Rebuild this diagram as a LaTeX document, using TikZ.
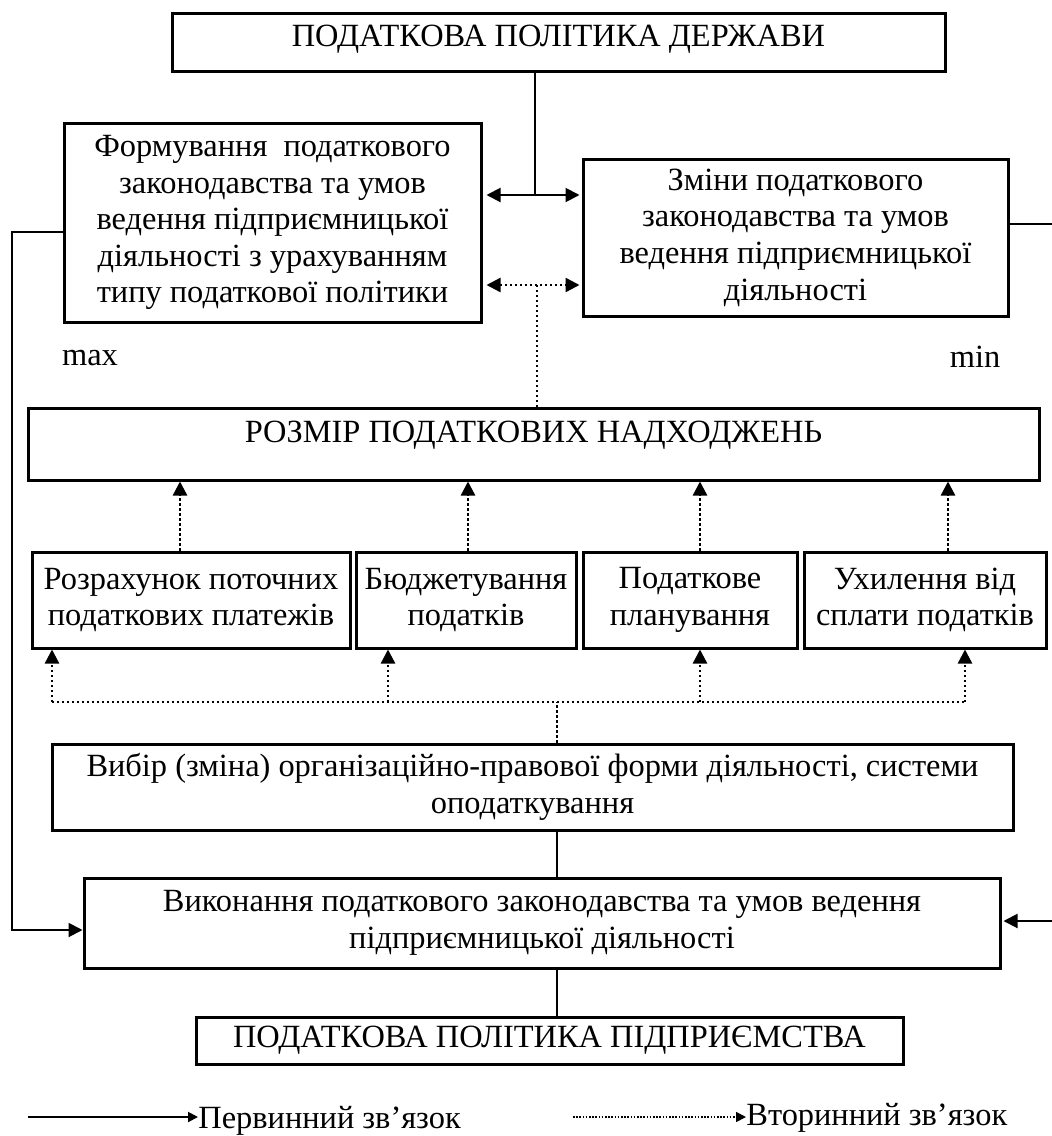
\documentclass[tikz,border=0pt]{standalone}
\usepackage{fontspec}
\setmainfont{Liberation Serif}
\usetikzlibrary{arrows.meta}
\tikzset{
  bx/.style 2 args={draw, line width=1.5pt, inner sep=0pt, align=center,
    minimum width=#1*0.5pt, minimum height=#2*0.5pt},
  txt/.style={inner sep=0pt, align=center},
  prim/.style={line width=1pt},
  sec/.style={line width=1.2pt, dash pattern=on 1.2pt off 1.3pt},
  tip/.style={-{Triangle[length=7pt,width=7pt]}},
  tips/.style={{Triangle[length=7pt,width=7pt]}-{Triangle[length=7pt,width=7pt]}},
  smalltip/.style={-{Triangle[length=5pt,width=5pt]}},
}
\begin{document}
\begin{tikzpicture}[x=0.5pt,y=-0.5pt,font=\fontsize{16.2}{18.3}\selectfont]
\useasboundingbox (0,0) rectangle (1052,1136);

% state tax policy
\node[bx={773}{58}] (state) at (558.5,42) {};
\node[txt] (statetxt) at (558.5,39) {ПОДАТКОВА ПОЛІТИКА ДЕРЖАВИ};

% legislation boxes
\node[bx={417}{199}] (form) at (272.5,222.5)
  {Формування~ податкового\\законодавства та умов\\ведення підприємницької\\діяльності з урахуванням\\типу податкової політики};
\node[bx={425}{157}] (zminy) at (795.5,237.5)
  {Зміни податкового\\законодавства та умов\\ведення підприємницької\\діяльності};

\node[txt] (maxl) at (90,358) {max};
\node[txt] (minl) at (975,357) {min};

% tax revenue
\node[bx={1011}{72}] (rozmir) at (533.5,444) {};
\node[txt] (rozmirtxt) at (533.5,435) {РОЗМІР ПОДАТКОВИХ НАДХОДЖЕНЬ};

% enterprise tools
\node[bx={318}{96}] (b1) at (191,600) {Розрахунок поточних\\податкових платежів};
\node[bx={220}{96}] (b2) at (466,600) {Бюджетування\\податків};
\node[bx={214}{96}] (b3) at (690,600) {Податкове\\планування};
\node[bx={242}{96}] (b4) at (925,600) {Ухилення від\\сплати податків};

% choice of legal form
\node[bx={961}{86}] (vybir) at (532.5,787)
  {Вибір (зміна) організаційно-правової форми діяльності, системи\\оподаткування};
\node[bx={916}{90}] (vykon) at (542,923)
  {Виконання податкового законодавства та умов ведення\\підприємницької діяльності};
\node[bx={707}{47}] (firm) at (549.5,1040.5) {ПОДАТКОВА ПОЛІТИКА ПІДПРИЄМСТВА};

% junction points
\coordinate (j1) at (535,195);
\coordinate (j2) at (537,285);
\coordinate (l1) at (12,232);
\coordinate (l2) at (12,930);
\coordinate (r1) at (1052,224);
\coordinate (r2) at (1052,921);
\coordinate (h0) at (557,702);
\coordinate (hl) at (52,702);
\coordinate (hr) at (965,702);

% primary links
\draw[prim] (state.south -| j1) -- (j1);
\draw[prim,tips,shorten <=2pt,shorten >=1pt] (form.east |- j1) -- (zminy.west |- j1);
\draw[prim,tip] (form.west |- l1) -- (l1) -- (l2) -- (vykon.west |- l2);
\draw[prim] (zminy.east |- r1) -- (r1);
\draw[prim,tip,shorten >=1pt] (r2) -- (vykon.east |- r2);
\draw[prim] (vybir.south -| h0) -- (vykon.north -| h0);
\draw[prim] (vykon.south -| h0) -- (firm.north -| h0);

% secondary links
\draw[sec,tips,shorten <=2pt,shorten >=1pt] (form.east |- j2) -- (zminy.west |- j2);
\draw[sec] (j2) -- (rozmir.north -| j2);
\foreach \b/\x in {b1/180,b2/468,b3/700,b4/948}
  \draw[sec,tip] (\b.north -| \x,0) -- (rozmir.south -| \x,0);
\draw[sec] (vybir.north -| h0) -- (h0);
\draw[sec] (hl) -- (hr);
\draw[sec,tip] (hl) -- (b1.south -| hl);
\draw[sec,tip] (388,702) -- (b2.south -| 388,0);
\draw[sec,tip] (700,702) -- (b3.south -| 700,0);
\draw[sec,tip] (hr) -- (b4.south -| hr);

% legend
\coordinate (la) at (28,1117);
\node[txt,anchor=base west] (lt1) at (198,1128) {Первинний зв’язок};
\draw[prim,smalltip] (la) -- (lt1.west |- la);
\coordinate (lb) at (573,1117);
\node[txt,anchor=base west] (lt2) at (746,1125) {Вторинний зв’язок};
\draw[line width=0.8pt,dash pattern=on 0.8pt off 0.8pt,smalltip] (lb) -- (lt2.west |- lb);
\end{tikzpicture}
\end{document}
